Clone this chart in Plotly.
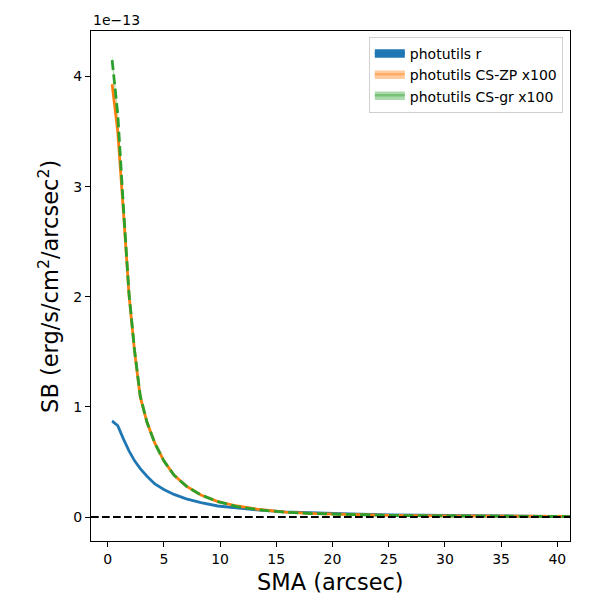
import plotly.graph_objects as go

# surface brightness profiles, values in units of 1e-13 erg/s/cm^2/arcsec^2
sma = [0.4, 0.9, 1.4, 1.9, 2.4, 2.9, 3.5, 4.2, 5.0, 5.9, 7.0, 8.3, 9.8,
       11.5, 13.5, 15.8, 18.5, 21.6, 25.2, 29.3, 34.0, 39.0, 41.2]

sb_r = [0.87, 0.83, 0.71, 0.60, 0.51, 0.44, 0.37, 0.30, 0.25, 0.205, 0.165,
        0.13, 0.10, 0.08, 0.062, 0.047, 0.036, 0.027, 0.02, 0.014, 0.009,
        0.006, 0.005]
err_r = [0.01, 0.01, 0.008, 0.007, 0.006, 0.005, 0.004, 0.004, 0.003, 0.003,
         0.003, 0.003, 0.003, 0.003, 0.003, 0.003, 0.003, 0.003, 0.002,
         0.002, 0.002, 0.002, 0.002]

sb_zp = [3.93, 3.50, 2.78, 2.02, 1.50, 1.09, 0.86, 0.67, 0.51, 0.38, 0.28,
         0.20, 0.14, 0.10, 0.068, 0.045, 0.03, 0.021, 0.015, 0.011, 0.008,
         0.006, 0.005]
err_zp = [0.03, 0.03, 0.025, 0.02, 0.015, 0.012, 0.01, 0.008, 0.006, 0.005,
          0.004, 0.004, 0.003, 0.003, 0.003, 0.003, 0.002, 0.002, 0.002,
          0.002, 0.002, 0.002, 0.002]

sb_gr = [4.15, 3.66, 2.82, 2.03, 1.51, 1.10, 0.86, 0.67, 0.51, 0.38, 0.28,
         0.20, 0.14, 0.095, 0.065, 0.043, 0.03, 0.02, 0.014, 0.01, 0.007,
         0.005, 0.004]
err_gr = [0.05, 0.045, 0.035, 0.025, 0.02, 0.015, 0.012, 0.01, 0.008, 0.006,
          0.005, 0.004, 0.004, 0.003, 0.003, 0.003, 0.002, 0.002, 0.002,
          0.002, 0.002, 0.002, 0.002]

y_ticks = [0, 1, 2, 3, 4]
x_ticks = [0, 5, 10, 15, 20, 25, 30, 35, 40]

series = [
    ("photutils r", sb_r, err_r, "#1f77b4", "rgb(31,119,180)", "solid"),
    ("photutils CS-ZP x100", sb_zp, err_zp, "#ff7f0e", "rgba(255,127,14,0.4)", "solid"),
    ("photutils CS-gr x100", sb_gr, err_gr, "#2ca02c", "rgba(44,160,44,0.4)", "dash"),
]

fig = go.Figure()

# error bands (fill_between style)
for name, y, e, col, fcol, dash in series:
    lo = [a - b for a, b in zip(y, e)]
    hi = [a + b for a, b in zip(y, e)]
    fig.add_trace(go.Scatter(
        x=sma + sma[::-1], y=hi + lo[::-1], fill="toself", fillcolor=fcol,
        line=dict(width=0, color=fcol), mode="lines", showlegend=False,
        hoverinfo="skip"))

for name, y, e, col, fcol, dash in series:
    fig.add_trace(go.Scatter(
        x=sma, y=y, mode="lines", showlegend=False,
        line=dict(color=col, width=2.8,
                  dash="10px,4.4px" if dash == "dash" else "solid")))

# legend patches
for name, y, e, col, fcol, dash in series:
    fig.add_trace(go.Scatter(
        x=[None], y=[None], fill="toself", fillcolor=fcol, mode="lines",
        line=dict(width=5, color=fcol), name=name))

fig.add_shape(type="line", xref="paper", x0=0, x1=1, yref="y", y0=0, y1=0,
              line=dict(color="black", width=2, dash="7.7px,3.3px"), layer="above")

fig.add_annotation(text="1e\u221213", xref="paper", yref="paper", x=0, y=1,
                   xanchor="left", yanchor="bottom", yshift=1, showarrow=False,
                   font=dict(size=14, color="black"))

# axis titles
fig.add_annotation(text="SMA (arcsec)", xref="paper", yref="paper", x=0.5, y=-0.08,
                   xanchor="center", yanchor="middle", showarrow=False,
                   font=dict(size=22.5, color="black"))
fig.add_annotation(text="SB (erg/s/cm<sup>2</sup>/arcsec<sup>2</sup>)", xref="paper",
                   yref="paper", x=-0.09, y=0.5, xanchor="center", yanchor="middle",
                   textangle=-90, showarrow=False, font=dict(size=22.5, color="black"))

axis_style = dict(showline=True, linecolor="black", linewidth=1.2, mirror=True,
                  ticks="outside", ticklen=5, tickwidth=1.2, tickcolor="black",
                  showgrid=False, zeroline=False, automargin=False,
                  tickfont=dict(size=14, color="black"))

fig.update_xaxes(range=[-1.48, 41.13], tickvals=x_ticks, **axis_style)
fig.update_yaxes(range=[-0.218, 4.414], tickvals=y_ticks, **axis_style)

fig.update_layout(
    width=592, height=592,
    margin=dict(l=83, r=30, t=23, b=59),
    paper_bgcolor="white", plot_bgcolor="white",
    font=dict(family="DejaVu Sans", color="black"),
    legend=dict(x=0.985, y=0.988, xanchor="right", yanchor="top",
                bordercolor="#d0d0d0", borderwidth=1, bgcolor="rgba(255,255,255,0.8)",
                font=dict(size=14, color="black"), tracegroupgap=0),
)

fig.write_html("out.html")
